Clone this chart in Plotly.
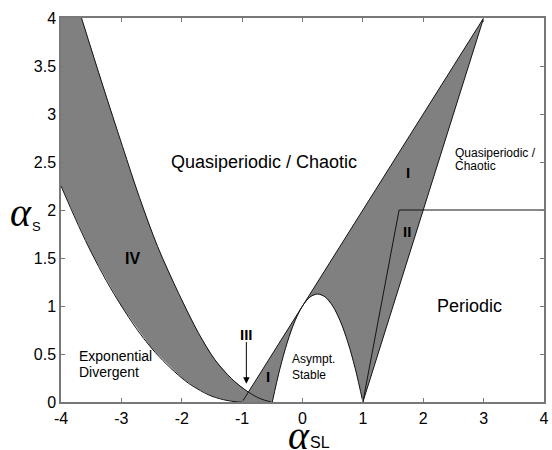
import plotly.graph_objects as go

# ---- data ----
# lower boundary of region IV
lowIV_x = [-4.0, -3.5, -3.0, -2.5, -2.0, -1.75, -1.5, -1.25, -1.1, -1.0]
lowIV_y = [2.25, 1.56, 1.0, 0.56, 0.25, 0.14, 0.06, 0.016, 0.003, 0.0]
# upper boundary of region IV
upIV_x = [-3.66, -3.31, -2.98, -2.70, -2.40, -2.05, -1.72, -1.45, -1.17, -0.90, -0.70, -0.52]
upIV_y = [4.0, 3.30, 2.66, 2.13, 1.62, 1.13, 0.715, 0.44, 0.24, 0.105, 0.035, 0.0]
# straight boundaries of region I
lineL_x = [-1.0, 3.0]
lineL_y = [0.0, 4.0]
lineR_x = [1.0, 3.0]
lineR_y = [0.0, 4.0]
# dome (asymptotically stable region)
dome_x = [-0.5, -0.375, -0.25, -0.125, 0.0, 0.125, 0.25, 0.375, 0.5, 0.625, 0.75, 0.875, 1.0]
dome_y = [0.0, 0.344, 0.625, 0.844, 1.0, 1.094, 1.125, 1.094, 1.0, 0.844, 0.625, 0.344, 0.0]
# periodic boundary (II)
lineII_x = [1.0, 1.6, 4.0]
lineII_y = [0.0, 2.0, 2.0]

xticks = [-4, -3, -2, -1, 0, 1, 2, 3, 4]
xticktext = ["-4", "-3", "-2", "-1", "0", "1", "2", "3", "4"]
yticks = [0, 0.5, 1, 1.5, 2, 2.5, 3, 3.5, 4]
yticktext = ["0", "0.5", "1", "1.5", "2", "2.5", "3", "3.5", "4"]

XR = [-4, 4]
YR = [0, 4]

FILL = "rgb(128,128,128)"
EDGE = "rgb(20,20,20)"
FONT = "Arial, Liberation Sans, sans-serif"
SERIF = "Liberation Serif, Times New Roman, serif"

fig = go.Figure()

# region IV fill
ivx = upIV_x + [lowIV_x[-1]] + lowIV_x[::-1] + [XR[0], upIV_x[0]]
ivy = upIV_y + [lowIV_y[-1]] + lowIV_y[::-1] + [YR[1], upIV_y[0]]
fig.add_trace(go.Scatter(x=ivx, y=ivy, mode="lines", fill="toself",
                         fillcolor=FILL, line=dict(width=0), hoverinfo="skip"))
# region I fill
ix = [lineL_x[0], lineL_x[1], lineR_x[0]] + dome_x[::-1] + [lineL_x[0]]
iy = [lineL_y[0], lineL_y[1], lineR_y[0]] + dome_y[::-1] + [lineL_y[0]]
fig.add_trace(go.Scatter(x=ix, y=iy, mode="lines", fill="toself",
                         fillcolor=FILL, line=dict(width=0), hoverinfo="skip"))

# outlines
for xs, ys, shp in [(lowIV_x, lowIV_y, "spline"), (upIV_x, upIV_y, "spline"),
                    (lineL_x, lineL_y, "linear"), (lineR_x, lineR_y, "linear"),
                    (dome_x, dome_y, "spline"), (lineII_x, lineII_y, "linear")]:
    fig.add_trace(go.Scatter(x=xs, y=ys, mode="lines",
                             line=dict(color=EDGE, width=1, shape=shp),
                             hoverinfo="skip"))

def txt(x, y, s, size, bold=False, xanchor="center"):
    if bold:
        s = "<b>" + s + "</b>"
    fig.add_annotation(x=x, y=y, text=s, showarrow=False, xanchor=xanchor,
                       yanchor="middle", font=dict(family=FONT, size=size, color="black"))

txt(-0.64, 2.50, "Quasiperiodic / Chaotic", 18)
txt(2.49, 2.59, "Quasiperiodic /", 12, xanchor="left")
txt(2.49, 2.46, "Chaotic", 12, xanchor="left")
txt(-3.74, 0.48, "Exponential", 14, xanchor="left")
txt(-3.74, 0.31, "Divergent", 14, xanchor="left")
txt(-0.21, 0.45, "Asympt.", 12, xanchor="left")
txt(-0.21, 0.28, "Stable", 12, xanchor="left")
txt(2.77, 1.0, "Periodic", 18)
txt(-2.82, 1.49, "IV", 16, bold=True)
txt(-0.92, 0.706, "III", 15, bold=True)
txt(-0.574, 0.264, "I", 15, bold=True)
txt(1.75, 2.39, "I", 15, bold=True)
txt(1.725, 1.78, "II", 15, bold=True)

# arrow for III
fig.add_annotation(x=-0.93, y=0.19, ax=-0.93, ay=0.64, axref="x", ayref="y",
                   text="", showarrow=True, arrowhead=2, arrowsize=1.3,
                   arrowwidth=1, arrowcolor="black")

# axis titles as annotations
def ptxt(x, y, s, size, fam):
    fig.add_annotation(xref="paper", yref="paper", x=x, y=y, text=s, showarrow=False,
                       xanchor="center", yanchor="middle",
                       font=dict(family=fam, size=size, color="black"))

ptxt(0.4932, -0.0880, "<i>α</i>", 40, SERIF)
ptxt(0.5359, -0.1055, "SL", 16, FONT)
ptxt(-0.082, 0.4935, "<i>α</i>", 40, SERIF)
ptxt(-0.0516, 0.4578, "S", 13, FONT)

axcol = "rgb(120,120,120)"
fig.update_xaxes(range=XR, tickvals=xticks, ticktext=xticktext, ticks="inside", ticklen=4,
                 tickcolor=axcol, showline=True, linecolor=axcol, linewidth=1.5, mirror="ticks",
                 showgrid=False, zeroline=False, ticklabelstandoff=1,
                 tickfont=dict(family=FONT, size=16, color="black"))
fig.update_yaxes(range=YR, tickvals=yticks, ticktext=yticktext, ticks="inside", ticklen=4,
                 tickcolor=axcol, showline=True, linecolor=axcol, linewidth=1.5, mirror="ticks",
                 showgrid=False, zeroline=False,
                 tickfont=dict(family=FONT, size=16, color="black"))
fig.update_layout(width=552, height=450, margin=dict(l=61, r=3, t=18, b=48),
                  plot_bgcolor="white", paper_bgcolor="white", showlegend=False)

fig.write_html("out.html")
